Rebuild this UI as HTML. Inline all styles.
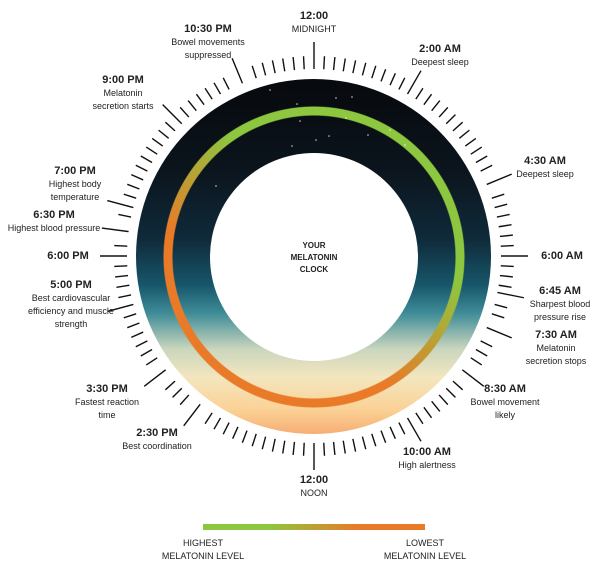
<!DOCTYPE html>
<html><head><meta charset="utf-8"><style>
body{margin:0;background:#fff;}
#w{position:relative;width:600px;height:571px;overflow:hidden;font-family:"Liberation Sans",sans-serif;color:#222;}
.disc{position:absolute;left:136px;top:79px;width:355px;height:355px;border-radius:50%;
background:linear-gradient(180deg,#07090d 0%,#0b141c 25%,#0f2a3a 45%,#17566a 58%,#3f8c98 66%,#c9d6bd 76%,#f3e6bf 84%,#fbd296 93%,#f6ae74 100%);}
.ring{position:absolute;left:163px;top:106px;width:302px;height:302px;border-radius:50%;
background:conic-gradient(#8dc63f 0deg,#8dc63f 100deg,#e97a28 150deg,#e97a28 280deg,#8dc63f 325deg,#8dc63f 360deg);
-webkit-mask:radial-gradient(circle,transparent 141px,#000 142px,#000 150px,transparent 151px);
mask:radial-gradient(circle,transparent 141px,#000 142px,#000 150px,transparent 151px);}
.hole{position:absolute;left:210px;top:153px;width:208px;height:208px;border-radius:50%;background:#fff;}
.c{position:absolute;left:264px;top:240px;width:100px;text-align:center;font-size:8px;font-weight:bold;line-height:12px;color:#222;}
.l{position:absolute;text-align:center;font-size:9px;line-height:13px;white-space:nowrap;transform:translateX(-50%);}
.l b{font-size:11px;display:block;}
.bar{position:absolute;left:203px;top:524px;width:222px;height:6px;background:linear-gradient(90deg,#8dc63f 0%,#8dc63f 30%,#e97a28 70%,#e97a28 100%);}
</style></head><body><div id="w">
<div class="disc"></div>
<div class="ring"></div>
<div class="hole"></div>
<svg id="s" width="600" height="571" style="position:absolute;left:0;top:0"></svg>
<div class="c">YOUR<br>MELATONIN<br>CLOCK</div>
<div class="l" style="left:314px;top:10px"><b>12:00</b>MIDNIGHT</div>
<div class="l" style="left:440px;top:43px"><b>2:00 AM</b>Deepest sleep</div>
<div class="l" style="left:545px;top:155px"><b>4:30 AM</b>Deepest sleep</div>
<div class="l" style="left:562px;top:250px"><b>6:00 AM</b></div>
<div class="l" style="left:560px;top:285px"><b>6:45 AM</b>Sharpest blood<br>pressure rise</div>
<div class="l" style="left:556px;top:329px"><b>7:30 AM</b>Melatonin<br>secretion stops</div>
<div class="l" style="left:505px;top:383px"><b>8:30 AM</b>Bowel movement<br>likely</div>
<div class="l" style="left:427px;top:446px"><b>10:00 AM</b>High alertness</div>
<div class="l" style="left:314px;top:474px"><b>12:00</b>NOON</div>
<div class="l" style="left:157px;top:427px"><b>2:30 PM</b>Best coordination</div>
<div class="l" style="left:107px;top:383px"><b>3:30 PM</b>Fastest reaction<br>time</div>
<div class="l" style="left:71px;top:279px"><b>5:00 PM</b>Best cardiovascular<br>efficiency and muscle<br>strength</div>
<div class="l" style="left:68px;top:250px"><b>6:00 PM</b></div>
<div class="l" style="left:54px;top:209px"><b>6:30 PM</b>Highest blood pressure</div>
<div class="l" style="left:75px;top:165px"><b>7:00 PM</b>Highest body<br>temperature</div>
<div class="l" style="left:123px;top:74px"><b>9:00 PM</b>Melatonin<br>secretion starts</div>
<div class="l" style="left:208px;top:23px"><b>10:30 PM</b>Bowel movements<br>suppressed</div>
<div class="bar"></div>
<div class="l" style="left:203px;top:537px">HIGHEST<br>MELATONIN LEVEL</div>
<div class="l" style="left:425px;top:537px">LOWEST<br>MELATONIN LEVEL</div>
</div>
<script>
var s=document.getElementById('s'),cx=314,cy=256,h='';
var major=[0,2,4.5,6,6.75,7.5,8.5,10,12,14.5,15.5,17,18,18.5,19,21,22.5].map(function(t){return t*15;});
function ln(deg,r1,r2){var a=deg*Math.PI/180,sx=Math.sin(a),c=-Math.cos(a);
return '<line x1="'+(cx+r1*sx)+'" y1="'+(cy+r1*c)+'" x2="'+(cx+r2*sx)+'" y2="'+(cy+r2*c)+'" stroke="#111" stroke-width="1.4"/>';}
for(var i=0;i<120;i++){var d=i*3,skip=false;
major.forEach(function(m){var dd=Math.abs(((d-m+540)%360)-180);if(dd<1.6)skip=true;});
if(!skip)h+=ln(d,187,200);}
major.forEach(function(m){h+=ln(m,187,214);});
var st=[[352,97],[336,98],[297,104],[300,121],[346,118],[292,146],[368,135],[240,190],[270,90],[390,130],[405,145],[216,186],[329,136],[316,140]];
st.forEach(function(p){h+='<circle cx="'+p[0]+'" cy="'+p[1]+'" r="0.8" fill="#fff" opacity="0.8"/>';});
s.innerHTML=h;
</script>
</body></html>
